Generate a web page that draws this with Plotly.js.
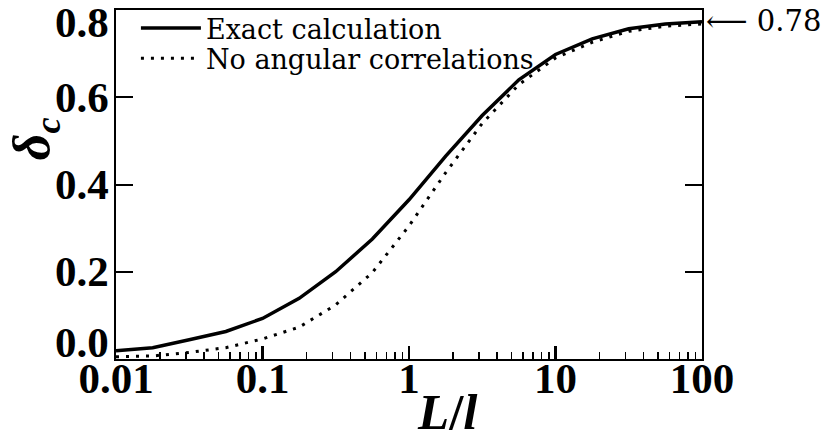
<!DOCTYPE html>
<html>
<head>
<meta charset="utf-8">
<script src="https://cdn.plot.ly/plotly-3.0.1.min.js"></script>
<style>html,body{margin:0;padding:0;background:#fff;}#chart{width:828px;height:442px;}</style>
</head>
<body>
<div id="chart"></div>
<script>
// Data
var ratioLl = [0.01, 0.0178, 0.0316, 0.0562, 0.1, 0.178, 0.316, 0.562, 1, 1.78, 3.16, 5.62, 10, 17.8, 31.6, 56.2, 100];
var exactCalc = [0.019, 0.026, 0.044, 0.063, 0.093, 0.139, 0.200, 0.275, 0.365, 0.465, 0.558, 0.640, 0.698, 0.734, 0.757, 0.768, 0.773];
var noAngular = [0.005, 0.007, 0.015, 0.026, 0.046, 0.073, 0.124, 0.198, 0.305, 0.427, 0.540, 0.629, 0.690, 0.726, 0.751, 0.763, 0.768];
var seriesNames = ['Exact calculation', 'No angular correlations'];
var xTickVals = [0.01, 0.1, 1, 10, 100];
var xTickText = ['0.01', '0.1', '1', '10', '100'];
var yTickVals = [0.0, 0.2, 0.4, 0.6, 0.8];
var yTickText = ['0.0', '0.2', '0.4', '0.6', '0.8'];
var asymptote = 0.78;
var asymptoteLabel = '\u27f5 0.78';
var xTitle = '<i>L</i>/<i>l</i>';
var yTitle = '<i>\u03b4</i><sub><i>c</i></sub>';

var serifBold = 'Liberation Serif';
var textFont = 'DejaVu Serif';
var tickSize = 43;

var traces = [
  {x: ratioLl, y: exactCalc, name: seriesNames[0], mode: 'lines', type: 'scatter',
   legend: 'legend', line: {color: '#000', width: 3.5}},
  {x: ratioLl, y: noAngular, name: seriesNames[1], mode: 'lines', type: 'scatter',
   legend: 'legend2', line: {color: '#000', width: 3, dash: '3px,7px'}}
];

var annotations = [];
yTickVals.forEach(function (v, i) {
  var shift = (i === 0) ? 0.38 * tickSize : (i === yTickVals.length - 1 ? -0.28 * tickSize : 0);
  annotations.push({
    xref: 'paper', yref: 'y', x: 0, y: v, xanchor: 'right', yanchor: 'middle',
    xshift: -5, yshift: shift, showarrow: false, text: yTickText[i],
    font: {family: serifBold, size: tickSize, color: '#000', weight: 'bold'}
  });
});
annotations.push({
  xref: 'paper', yref: 'y', x: 1, y: asymptote, xanchor: 'left', yanchor: 'middle',
  xshift: 2, yshift: -2, showarrow: false, text: asymptoteLabel,
  font: {family: textFont, size: 29, color: '#000'}
});
annotations.push({
  xref: 'paper', yref: 'paper', x: 0.565, y: -0.152, xanchor: 'center', yanchor: 'middle',
  showarrow: false, text: xTitle,
  font: {family: serifBold, size: 51, color: '#000', weight: 'bold'}
});
annotations.push({
  xref: 'paper', yref: 'paper', x: -0.138, y: 0.63, xanchor: 'center', yanchor: 'middle',
  textangle: -90, showarrow: false, text: yTitle,
  font: {family: serifBold, size: 52, color: '#000', weight: 'bold'}
});

var legendBase = {xanchor: 'left', yanchor: 'top',
  bgcolor: 'rgba(0,0,0,0)', borderwidth: 0, itemwidth: 60,
  font: {family: textFont, size: 27, color: '#000'}};

var layout = {
  width: 828, height: 442,
  margin: {l: 116, r: 126, t: 10, b: 83, pad: 0, autoexpand: false},
  paper_bgcolor: '#fff', plot_bgcolor: '#fff',
  showlegend: true,
  legend: Object.assign({}, legendBase, {x: 0.034, y: 1.017}),
  legend2: Object.assign({}, legendBase, {x: 0.034, y: 0.931}),
  xaxis: {
    type: 'log', range: [-2, 2],
    tickmode: 'array', tickvals: xTickVals, ticktext: xTickText,
    ticks: 'inside', ticklen: 13, tickwidth: 2.5, tickcolor: '#000',
    ticklabelstandoff: -20,
    minor: {ticks: 'inside', ticklen: 7, tickwidth: 1.5, tickcolor: '#000', dtick: 'D1', showgrid: false},
    showline: true, linecolor: '#000', linewidth: 2, mirror: true,
    showgrid: false, zeroline: false,
    tickfont: {family: serifBold, size: tickSize, color: '#000', weight: 'bold'}
  },
  yaxis: {
    range: [0, 0.8],
    tickmode: 'array', tickvals: yTickVals, showticklabels: false,
    ticks: 'inside', ticklen: 17, tickwidth: 2, tickcolor: '#000',
    showline: true, linecolor: '#000', linewidth: 2, mirror: 'ticks',
    showgrid: false, zeroline: false
  },
  annotations: annotations
};

Plotly.newPlot('chart', traces, layout, {staticPlot: true, displayModeBar: false});
</script>
</body>
</html>
